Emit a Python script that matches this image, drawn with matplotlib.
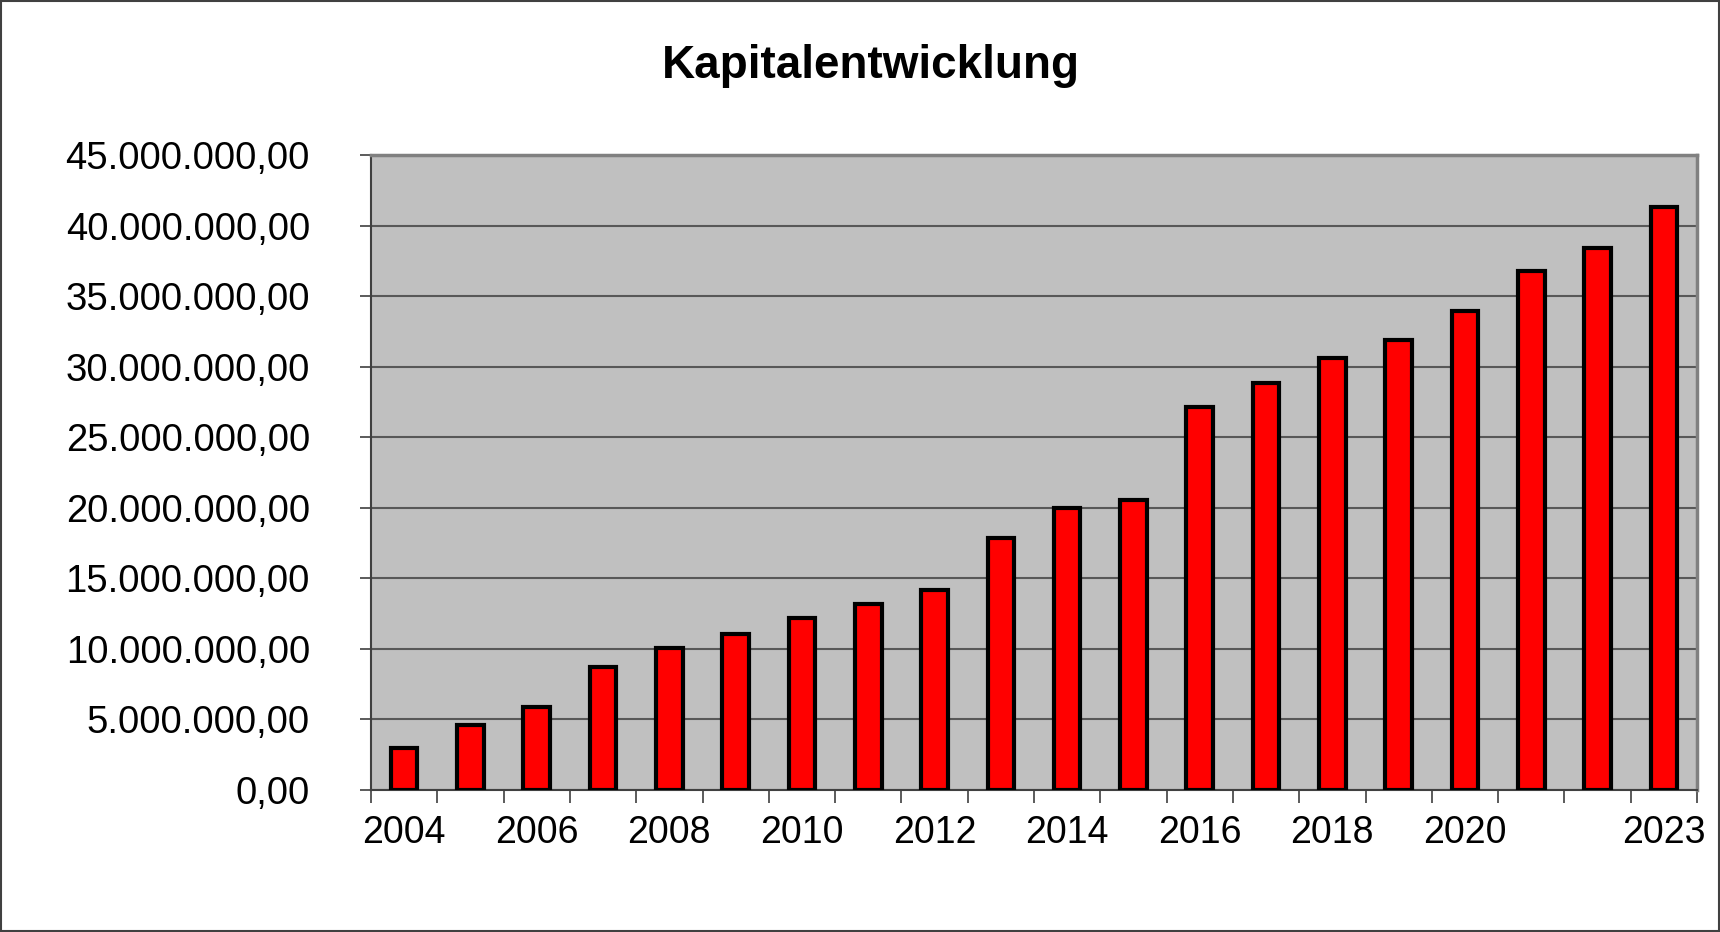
import matplotlib
matplotlib.use("Agg")
import matplotlib.pyplot as plt
from matplotlib.ticker import FuncFormatter, FixedLocator
from matplotlib.patches import Rectangle

plt.rcParams['font.family'] = ['Liberation Sans', 'DejaVu Sans']

# Kapital pro Jahr (Euro)
years = list(range(2004, 2024))
capital = [2.95e6, 4.58e6, 5.9e6, 8.69e6, 10.09e6, 11.02e6, 12.18e6, 13.19e6,
           14.2e6, 17.84e6, 20.0e6, 20.56e6, 27.15e6, 28.86e6, 30.64e6, 31.89e6,
           33.95e6, 36.8e6, 38.4e6, 41.3e6]
shown_labels = [2004, 2006, 2008, 2010, 2012, 2014, 2016, 2018, 2020, 2023]
y_ticks = list(range(0, 45000001, 5000000))


def de_fmt(v, pos=None):
    s = f"{v:,.2f}"
    return s.replace(",", "X").replace(".", ",").replace("X", ".")


fig = plt.figure(figsize=(17.2, 9.32), dpi=100)
ax = fig.add_axes([371 / 1720, 1 - 790 / 932, (1697 - 371) / 1720, (790 - 155) / 932])

x = list(range(len(years)))
ax.bar(x, capital, width=0.40, color='#FF0000', edgecolor='black', linewidth=3, zorder=3)

ax.set_facecolor('#C0C0C0')
ax.set_xlim(-0.5, len(years) - 0.5)
ax.set_ylim(0, 45000000)

ax.set_yticks(y_ticks)
ax.yaxis.set_major_formatter(FuncFormatter(de_fmt))
ax.grid(axis='y', color='#585858', linewidth=1.5, zorder=1)

ax.set_xticks([years.index(y) for y in shown_labels])
ax.set_xticklabels([str(y) for y in shown_labels])
ax.xaxis.set_minor_locator(FixedLocator([i - 0.5 for i in range(len(years) + 1)]))
ax.tick_params(axis='x', which='major', length=0, pad=18, labelsize=27)
ax.tick_params(axis='x', which='minor', length=9, width=1.2, color='#404040', direction='out')
ax.tick_params(axis='y', length=8, width=1.2, color='#404040', pad=36, labelsize=27.5)

ax.spines['left'].set_color('#404040')
ax.spines['left'].set_linewidth(1.5)
ax.spines['bottom'].set_color('#404040')
ax.spines['bottom'].set_linewidth(1.5)
ax.spines['top'].set_color('#808080')
ax.spines['top'].set_linewidth(2.5)
ax.spines['right'].set_color('#808080')
ax.spines['right'].set_linewidth(2.5)

fig.text(871 / 1720, 1 - 66 / 932, 'Kapitalentwicklung', ha='center', va='center',
         fontsize=33, fontweight='bold')

fig.patches.append(Rectangle((0.0005, 0.0008), 0.999, 0.9985, transform=fig.transFigure,
                             fill=False, edgecolor='#404040', linewidth=1.5))

fig.savefig('out.png', dpi=100)
